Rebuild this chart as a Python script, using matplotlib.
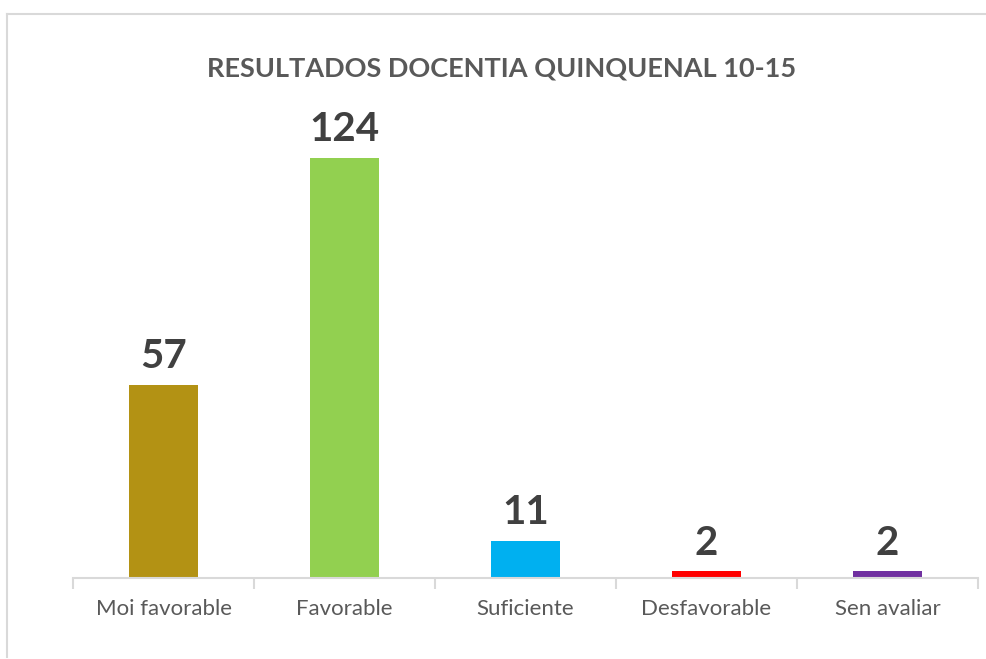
import numpy as np
import matplotlib.pyplot as plt
from matplotlib.lines import Line2D

plt.rcParams['font.family'] = ['Lato', 'DejaVu Sans']

# data
categories = ['Moi favorable', 'Favorable', 'Suficiente', 'Desfavorable', 'Sen avaliar']
counts = [57, 124, 11, 2, 2]
bar_colors = ['#B39214', '#92D050', '#00B0F0', '#FF0000', '#7030A0']

fig = plt.figure(figsize=(9.87, 6.59), dpi=100)
ax = fig.add_axes([73 / 987, 1 - 578 / 659, 905 / 987, 474 / 659])

x = np.arange(len(categories))
bars = ax.bar(x, counts, width=0.376, color=bar_colors)

for b, v in zip(bars, counts):
    ax.annotate(str(v), (b.get_x() + b.get_width() / 2, v), xytext=(0, 7),
                textcoords='offset points', ha='center', va='bottom',
                fontsize=29, fontweight='bold', color='#404040')

ax.set_xlim(-0.5, len(categories) - 0.5)
ax.set_ylim(0, 140)
ax.set_yticks([])
for s in ['top', 'right', 'left']:
    ax.spines[s].set_visible(False)
ax.spines['bottom'].set_color('#D9D9D9')
ax.spines['bottom'].set_linewidth(1.5)

# category labels centered, tick marks between categories
ax.set_xticks(x)
ax.set_xticklabels(categories, fontsize=16, color='#595959')
ax.tick_params(axis='x', length=0, pad=15)
ax.set_xticks(np.arange(len(categories) + 1) - 0.5, minor=True)
ax.tick_params(axis='x', which='minor', length=8, width=1.5, color='#D9D9D9')

fig.text(502 / 987, 1 - 68 / 659, 'RESULTADOS DOCENTIA QUINQUENAL 10-15',
         ha='center', va='center', fontsize=19.5, fontweight='bold', color='#595959')

# chart frame (cropped on right and bottom)
fig.add_artist(Line2D([7 / 987, 1.0], [1 - 14 / 659] * 2, color='#D9D9D9', lw=1.5))
fig.add_artist(Line2D([7 / 987] * 2, [1 - 14 / 659, 1 - 657 / 659], color='#D9D9D9', lw=1.5))

fig.savefig('out.png', dpi=100, facecolor='white')
